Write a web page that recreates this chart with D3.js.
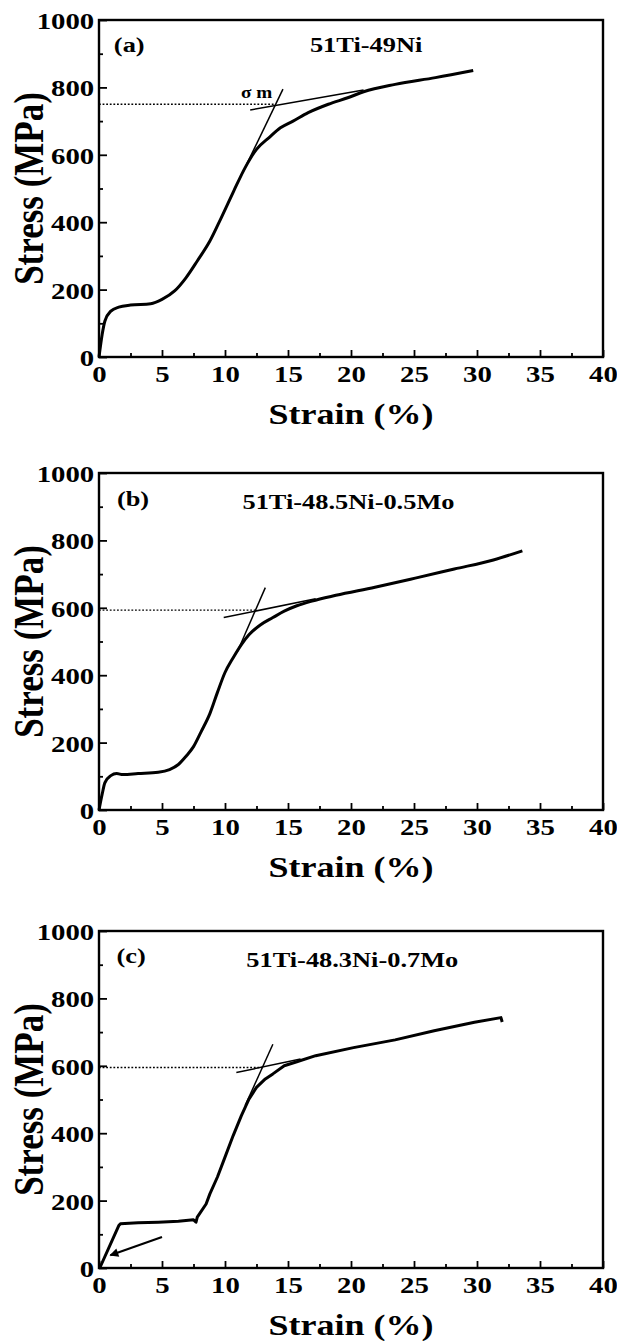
<!DOCTYPE html>
<html>
<head>
<meta charset="utf-8">
<script src="https://cdn.jsdelivr.net/npm/d3@7"></script>
<style>
  body { margin: 0; background: #fff; }
  svg text { font-family: "Liberation Serif", "Times New Roman", serif; font-weight: bold; fill: #000; }
</style>
</head>
<body>
<div id="chart"></div>
<script>
// ticks
const strainTicks = [0, 5, 10, 15, 20, 25, 30, 35, 40];
const strainMinor = [2.5, 7.5, 12.5, 17.5, 22.5, 27.5, 32.5, 37.5];
const stressTicks = [0, 200, 400, 600, 800, 1000];
const stressMinor = [100, 300, 500, 700, 900];

// (a) 51Ti-49Ni
const strainA = [0, 0.25, 0.47, 0.94, 1.57, 2.5, 4.1, 5.0, 6.0, 6.9, 7.8, 8.8, 9.7, 10.7, 11.6, 12.5, 13.5, 14.4, 15.4, 16.6, 18.2, 19.8, 21.0, 23.5, 26.7, 29.7];
const stressA = [0, 67, 107, 136, 148, 154, 158, 171, 196, 235, 285, 344, 413, 493, 562, 616, 651, 680, 700, 725, 750, 770, 787, 809, 829, 850];
const elasticA = [[11.7, 570], [14.6, 795]];
const hardenA = [[12.0, 733], [21.0, 792]];
const levelA = 750, levelEndA = 14.0;

// (b) 51Ti-48.5Ni-0.5Mo
const strainB = [0, 0.25, 0.47, 0.94, 1.4, 1.9, 3.1, 4.7, 5.6, 6.3, 6.9, 7.5, 8.1, 8.8, 9.4, 10.0, 10.65, 11.3, 11.9, 12.8, 13.8, 14.7, 15.7, 16.9, 18.8, 21.9, 25.1, 28.2, 31.3, 33.6];
const stressB = [0, 47, 81, 102, 108, 105, 108, 112, 120, 135, 159, 188, 232, 286, 349, 408, 452, 491, 520, 549, 571, 590, 606, 620, 637, 661, 688, 715, 742, 769];
const elasticB = [[11.0, 471], [13.2, 660]];
const hardenB = [[9.9, 571], [17.2, 627]];
const levelB = 593, levelEndB = 12.4;

// (c) 51Ti-48.3Ni-0.7Mo
const strainC = [0.06, 1.57, 1.7, 3.1, 4.7, 6.3, 7.5, 7.7, 7.8, 8.5, 8.8, 9.4, 10.0, 10.65, 11.3, 11.9, 12.5, 13.2, 13.8, 14.7, 15.7, 17.2, 20.2, 23.5, 26.6, 29.8, 31.9, 32.0];
const stressC = [0, 126, 131, 134, 136, 139, 143, 136, 151, 190, 220, 270, 329, 393, 452, 501, 536, 561, 576, 600, 612, 630, 654, 677, 704, 729, 743, 730];
const elasticC = [[11.6, 482], [13.8, 664]];
const hardenC = [[10.9, 580], [16.0, 620]];
const levelC = 595, levelEndC = 13.0;
const arrowC = [[5.0, 92], [0.9, 38]];

const labels = ['(a)', '(b)', '(c)'];
const labelPos = [[2.4, 928], [2.7, 925], [2.55, 927]];
const titles = ['51Ti-49Ni', '51Ti-48.5Ni-0.5Mo', '51Ti-48.3Ni-0.7Mo'];
const titlePos = [[21.2, 928], [19.8, 917], [20.1, 916]];

const W = 617, H = 1341;
const left = 99, plotW = 504, plotH = 337;
const tops = [20, 473, 931];
const sx = 1.2; // glifos da figura original são mais largos

const svg = d3.select('#chart').append('svg')
  .attr('width', W).attr('height', H);

const defs = svg.append('defs');
defs.append('marker')
  .attr('id', 'arrowhead')
  .attr('viewBox', '0 0 10 10')
  .attr('refX', 9).attr('refY', 5)
  .attr('markerWidth', 5).attr('markerHeight', 4)
  .attr('orient', 'auto')
  .append('path').attr('d', 'M0,0 L10,5 L0,10 z').attr('fill', '#000');

const panels = [
  { strain: strainA, stress: stressA, elastic: elasticA, harden: hardenA, level: levelA, levelEnd: levelEndA, curve: d3.curveMonotoneX },
  { strain: strainB, stress: stressB, elastic: elasticB, harden: hardenB, level: levelB, levelEnd: levelEndB, curve: d3.curveMonotoneX },
  { strain: strainC, stress: stressC, elastic: elasticC, harden: hardenC, level: levelC, levelEnd: levelEndC, curve: d3.curveLinear, arrow: arrowC }
];

function stretchedText(g, x, y, size, txt) {
  return g.append('text')
    .attr('transform', `translate(${x},${y}) scale(${sx},1)`)
    .attr('text-anchor', 'middle').attr('dy', '0.35em')
    .attr('font-size', size)
    .text(txt);
}

panels.forEach((p, i) => {
  const g = svg.append('g').attr('transform', `translate(${left},${tops[i]})`);

  const x = d3.scaleLinear().domain([0, 40]).range([0, plotW]);
  const y = d3.scaleLinear().domain([0, 1000]).range([plotH, 0]);

  // eixos
  const xAxis = g.append('g')
    .attr('transform', `translate(0,${plotH})`)
    .call(d3.axisBottom(x).tickValues(strainTicks).tickSizeInner(-7).tickSizeOuter(0).tickPadding(8));
  g.append('g')
    .attr('transform', `translate(0,${plotH})`)
    .call(d3.axisBottom(x).tickValues(strainMinor).tickSizeInner(-4).tickSizeOuter(0).tickFormat(''));

  const yAxis = g.append('g')
    .call(d3.axisLeft(y).tickValues(stressTicks).tickFormat(d3.format('d')).tickSizeInner(-8).tickSizeOuter(0).tickPadding(4));
  g.append('g')
    .call(d3.axisLeft(y).tickValues(stressMinor).tickSizeInner(-4).tickSizeOuter(0).tickFormat(''));

  g.selectAll('.domain').remove();
  g.selectAll('.tick line').attr('stroke', '#000').attr('stroke-width', 1.8);
  xAxis.selectAll('text').attr('font-size', 24).attr('dy', '0.72em')
    .attr('transform', `scale(${sx},1)`);
  yAxis.selectAll('text').attr('font-size', 24).attr('dy', '0.35em')
    .attr('transform', `scale(${sx},1)`);

  // moldura
  g.append('rect')
    .attr('width', plotW).attr('height', plotH)
    .attr('fill', 'none').attr('stroke', '#000').attr('stroke-width', 2.4);

  // nível pontilhado
  g.append('line')
    .attr('x1', x(0)).attr('x2', x(p.levelEnd))
    .attr('y1', y(p.level)).attr('y2', y(p.level))
    .attr('stroke', '#000').attr('stroke-width', 1.4)
    .attr('stroke-dasharray', '1.8,1.8');

  // tangentes
  [p.elastic, p.harden].forEach(seg => {
    g.append('line')
      .attr('x1', x(seg[0][0])).attr('y1', y(seg[0][1]))
      .attr('x2', x(seg[1][0])).attr('y2', y(seg[1][1]))
      .attr('stroke', '#000').attr('stroke-width', 1.5);
  });

  // curva
  const pts = p.strain.map((s, k) => [s, p.stress[k]]);
  const line = d3.line()
    .x(d => x(d[0]))
    .y(d => y(d[1]))
    .curve(p.curve);
  g.append('path')
    .datum(pts)
    .attr('d', line)
    .attr('fill', 'none')
    .attr('stroke', '#000')
    .attr('stroke-width', 3)
    .attr('stroke-linejoin', 'round');

  if (p.arrow) {
    g.append('line')
      .attr('x1', x(p.arrow[0][0])).attr('y1', y(p.arrow[0][1]))
      .attr('x2', x(p.arrow[1][0])).attr('y2', y(p.arrow[1][1]))
      .attr('stroke', '#000').attr('stroke-width', 2.2)
      .attr('marker-end', 'url(#arrowhead)');
  }

  if (i === 0) {
    stretchedText(g, x(12.5), y(784), 16, 'σ m');
  }

  // rótulos
  stretchedText(g, x(labelPos[i][0]), y(labelPos[i][1]), 22, labels[i]);
  stretchedText(g, x(titlePos[i][0]), y(titlePos[i][1]), 22, titles[i]);
  stretchedText(g, plotW / 2, plotH + 56, 30, 'Strain (%)');

  g.append('text')
    .attr('transform', `translate(${28 - left},${plotH / 2}) scale(${sx},1) rotate(-90)`)
    .attr('text-anchor', 'middle').attr('dy', '0.35em')
    .attr('font-size', 35)
    .text('Stress (MPa)');
});
</script>
</body>
</html>
